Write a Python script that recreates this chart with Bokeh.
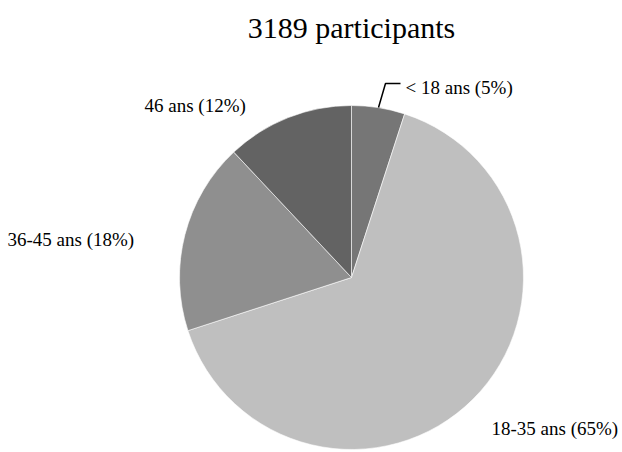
import math
from bokeh.plotting import figure
from bokeh.models import Range1d
from bokeh.core.properties import value
from bokeh.embed import file_html
from bokeh.resources import INLINE

W, H = 622, 452

# Age groups of the participants
categories = ["< 18 ans", "18-35 ans", "36-45 ans", "46 ans"]
percents = [5, 65, 18, 12]
colors = ["#767676", "#BFBFBF", "#8F8F8F", "#636363"]
title_text = "3189 participants"

# Layout (pixel space, y measured from top)
cx, cy, r = 351, 277, 172
label_pos = [(405, 87), (491, 428), (7, 239), (144, 105)]

p = figure(width=W, height=H, output_backend="svg", toolbar_location=None,
           x_range=Range1d(0, W), y_range=Range1d(0, H),
           min_border=0, outline_line_color=None)
p.axis.visible = False
p.grid.visible = False

# Wedges start at 12 o'clock and go clockwise
total = sum(percents)
start = math.pi / 2
starts, ends = [], []
for v in percents:
    a = 2 * math.pi * v / total
    starts.append(start)
    ends.append(start - a)
    start -= a

p.wedge(x=[cx] * 4, y=[H - cy] * 4, radius=r,
        start_angle=ends, end_angle=starts,
        fill_color=colors, line_color="white", line_width=0.6)

labels = [f"{c} ({v}%)" for c, v in zip(categories, percents)]
p.text(x=[q[0] for q in label_pos], y=[H - q[1] for q in label_pos], text=labels,
       text_font=value("Liberation Serif"), text_font_size="19px",
       text_color="#000000", text_align="left", text_baseline="alphabetic")

# Leader line for the small slice
p.line(x=[400, 385, 378], y=[H - 83, H - 83, H - 107], line_color="black", line_width=1.5)

p.text(x=[351], y=[H - 27], text=[title_text],
       text_font=value("Liberation Serif"), text_font_size="30px",
       text_color="#000000", text_align="center", text_baseline="alphabetic")

open("out.html", "w").write(file_html(p, INLINE))
